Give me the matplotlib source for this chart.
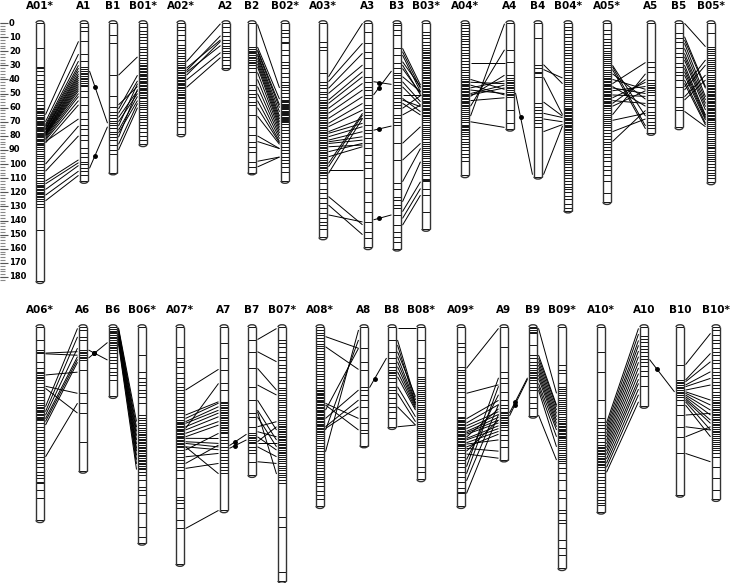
import matplotlib.pyplot as plt
from matplotlib.patches import Arc, Rectangle
from matplotlib.collections import LineCollection

# ---- marker positions (cM) per linkage group ----
A01s = [18, 31.2, 31.8, 34, 37, 40.5, 43, 45.5, 48, 50.5, 53, 55.5, 58, 60, 61, 62.2, 63, 64.1, 65, 66.3,
        67, 68, 69.2, 70, 71, 71.8, 72.6, 73.5, 74.3, 75.2, 76, 76.8, 77.7, 78.5, 79.4, 80.2, 81, 82, 83,
        83.8, 84.7, 85.5, 86.5, 88, 89.5, 91, 92.5, 94.5, 96, 98, 100, 102, 104.5, 106, 108, 110, 112,
        113.5, 114.5, 115.5, 116.5, 117.5, 118.5, 119.5, 120.5, 121.5, 122.5, 123.5, 124.5, 126, 128, 130.5, 147]
A1 = [3, 6, 13, 22, 27, 31, 32.5, 34, 35.2, 36.4, 37.6, 38.8, 40, 41.2, 42.4, 43.6, 45, 48.5, 52.5, 58, 63,
      68, 72, 75, 79.5, 83, 88.5, 92, 95, 98.5, 100, 103, 105, 107.5]
B1 = [8.5, 14.5, 37, 52, 59.3, 63, 65.2, 67.6, 69.5, 71, 72.3, 74.7, 77, 78.9, 80.6, 83, 86.5, 90, 92.5]
B01s = [3, 5.5, 8, 10, 12, 14, 16.8, 18.5, 20.5, 22.5, 24.5, 26.5, 28.5, 29.8, 30.8, 31.8, 32.8, 33.8, 34.8,
        35.8, 36.8, 37.8, 38.8, 39.8, 40.8, 41.8, 42.8, 43.8, 44.8, 45.8, 46.8, 47.8, 48.8, 49.8, 51, 52.5,
        53.5, 55, 56.5, 58, 59.5, 61, 63, 65, 66.5, 68, 70, 72, 74.5, 77, 80, 83]
A02s = [2.6, 5, 8.5, 12, 15.6, 17.5, 19.1, 21.5, 23.5, 25, 27, 28.5, 29.8, 31, 32.2, 33.4, 34.5, 35.7, 36.9,
        38, 39.2, 40.2, 41.2, 42.2, 43.2, 44.2, 45.2, 46.3, 47.3, 48.7, 50, 51, 52.5, 53.4, 55, 56.5, 58.2,
        60.5, 62.9, 65.2, 67.6, 70, 73.5]
A2 = [2.6, 6.1, 9, 12, 14.4, 16.1, 17.9, 19.9, 21.5, 23.9, 26.2, 29.8]
B2 = [17, 18.5, 19.5, 20.5, 21.5, 22.7, 23.9, 25, 26.2, 27.4, 28.6, 29.8, 32.2, 34.5, 44, 47.5, 50, 52.3,
      55.8, 58.2, 65.2, 74, 79.4, 84.2, 87.7, 91.2, 98.3, 102]
B02s = [5, 7.3, 9.7, 13.2, 14.4, 19.1, 22.7, 27.4, 29.8, 32.2, 35.7, 38.1, 41.6, 44, 45.2, 47.5, 49.9, 52.3,
        54.6, 55.5, 56.3, 57.2, 58, 58.8, 59.7, 60.5, 61.3, 62.2, 63, 63.8, 64.7, 65.5, 66.4, 67.2, 68,
        68.8, 69.7, 70.5, 71.3, 73.5, 75.9, 78.2, 80.6, 83, 85.3, 87.7, 90, 92.4, 94.8, 97.2, 99.5, 101.9, 105.4]
A03s = [13.2, 16.8, 19.1, 35.7, 41.6, 44, 46.3, 48.7, 50.5, 52.2, 54.6, 55.8, 57, 58.2, 59.3, 60.5, 61.7,
        62.9, 64, 65.2, 66.4, 67.6, 68.8, 70, 71.1, 72.3, 73.5, 74.7, 75.9, 77, 78.2, 79.4, 80.6, 81.8, 83,
        84.2, 85.3, 86.5, 87.7, 88.9, 90, 91.2, 92.4, 93.6, 94.8, 96, 97.2, 98.3, 99.5, 100.7, 102, 103,
        104.2, 105.4, 106.6, 107.8, 110.2, 113.7, 117.3, 120.8, 124.3, 127.8, 131.4, 135, 138.5, 141, 143.3, 146]
A3 = [6.1, 14.4, 20.3, 25, 32.2, 38, 41.6, 45.2, 47.5, 51, 53.4, 58.2, 60.5, 62.9, 65.2, 67.6, 72.3, 75.9,
      78.2, 81.8, 85.3, 88.9, 93.6, 98.3, 103, 110, 119.6, 126.7, 133.7, 140.8, 148, 152.7]
B3 = [1.4, 5, 8.5, 17.9, 22.7, 28.6, 32.2, 35.7, 36.9, 39.2, 41.6, 44, 46.3, 48.7, 51, 53.4, 55.8, 58.2,
      60.5, 65.2, 67.6, 70, 72.3, 85.3, 97.2, 113.7, 117.3, 123.2, 125.5, 129, 131.4, 136.1, 143.3, 148, 152, 155]
B03s = [6.1, 8.5, 10.9, 13.2, 15.6, 17.5, 19.1, 20.3, 21.5, 22.7, 23.9, 25, 26.2, 27.4, 28.6, 29.8, 31, 32.2,
        33.4, 34.5, 35.7, 36.9, 38.1, 39.2, 40.4, 41.6, 42.8, 44, 45, 46, 47, 48, 49, 50, 51, 52, 53, 54, 55,
        56, 57, 58, 59, 60, 61, 62, 63, 64, 65, 66, 67.5, 69, 70.5, 72, 73.5, 75, 76.5, 78, 79.5, 81, 82.5,
        84, 85.5, 87, 88.5, 90, 91.5, 93, 94.5, 96, 97.5, 99, 100.5, 102, 104, 106, 107.8, 110.5, 111.3,
        112, 117.3, 122, 133.7]
A04s = [1.5, 3.5, 5.5, 7.5, 9.5, 11, 13, 15, 17, 19, 21, 23, 25, 27, 29, 31, 33, 35, 37, 38.5, 40, 41, 42,
        43, 44, 45, 46, 47, 48, 49, 50, 51, 52, 53, 54, 55, 56, 57, 58, 59, 60, 61.5, 63, 64.5, 66, 67.5,
        69, 70.5, 72, 73, 74, 75, 76, 77, 78.5, 80, 82, 84, 86, 88, 90, 92.5, 95, 98]
A4 = [19.1, 27.4, 36.9, 39.2, 40.4, 41.6, 42.8, 44, 45.2, 46.3, 47.5, 48.7, 50, 51, 52.2, 61.7, 71.1]
B4 = [10.9, 29.5, 31.7, 34.5, 35.7, 38.5, 57, 59.3, 61.7, 64, 66.4, 68.8, 71.1, 73.5]
B04s = [3, 5, 7.5, 10, 12.5, 15, 17, 19, 21, 23, 25, 27, 29, 31, 33, 35, 37, 39, 40.5, 42, 43.5, 45, 46.5,
        48, 49.5, 51, 52.5, 54, 55.5, 57, 58.5, 60, 61, 62, 63, 64, 65, 66, 67, 68, 69, 70, 71, 72, 73, 74,
        75, 76, 77.5, 79, 80.5, 82, 83.5, 85, 86.5, 88, 89.5, 91, 92.5, 94, 95.5, 97, 98.5, 100, 102, 104,
        106, 108, 110, 112, 114, 116, 118, 120, 122.5, 125, 128, 131]
A05s = [5, 8, 11, 13.5, 15.5, 17.5, 19.5, 21, 22.5, 24, 25.5, 27, 28.5, 30, 31.5, 33, 34.5, 36, 37.5, 39, 40,
        41, 42, 43, 44, 45, 46, 47, 48, 49, 50, 51, 52, 53, 54, 55, 56, 57, 58, 59, 60.5, 62, 63.5, 65,
        66.5, 68, 69.5, 71, 72.5, 74, 76, 78, 80, 82, 84, 86, 88, 90, 92.5, 95, 98, 101, 104, 108, 112, 120.8]
A5 = [27.4, 31, 34.5, 40.4, 42.8, 44, 45.2, 46.3, 47.5, 48.7, 51.1, 54.6, 57, 59.3, 62.9, 65.3, 67.6, 70,
      72.3, 74.7]
B5 = [7.4, 10.9, 13.2, 18, 21.5, 23.9, 28.6, 31, 34.5, 36.9, 40.4, 45.2, 52.3, 59.3, 61.7]
B05s = [7.4, 16.8, 18.5, 20, 21.5, 23, 24.5, 26, 27.5, 29, 30.5, 32, 33.5, 35, 36.5, 38, 39.5, 41, 42.5, 44,
        45, 46, 47, 48, 49, 50, 51, 52, 53, 54, 55, 56, 57, 58, 59, 60, 61, 62, 63, 64, 65, 66, 67, 68, 69,
        70, 71.5, 73, 74.5, 76, 77.5, 79, 80.5, 82, 83.5, 85, 86.5, 88.2, 88.8, 90.5, 92, 93.5, 95, 96.5, 98,
        100, 102, 104, 106, 108, 110]

A06s = [9.2, 16.3, 17.5, 18.7, 24.6, 29.3, 31.7, 32.9, 34, 35.2, 36.4, 37.6, 40, 42.3, 44.7, 47, 49.4, 51.8,
        54.1, 55.3, 56.5, 57.5, 58.5, 59.5, 60.5, 61.5, 62.5, 63.5, 64.5, 65.5, 66, 68.3, 70.7, 73, 75.4,
        77.8, 80.1, 82.5, 84.9, 87.2, 89.6, 92, 94.3, 96.7, 99, 102.6, 105, 107.3, 109.7, 110.9, 115.6, 121.5]
A6 = [2.1, 6.8, 9.2, 16.3, 17.5, 18.7, 19.9, 21, 22.2, 23.4, 30.5, 47, 54.1, 61.2, 81.3]
B6 = [1.7, 2.6, 3.5, 4.5, 5.7, 6.8, 8, 9.2, 10.4, 11.6, 12.8, 14, 15.1, 16.3, 18.7, 21, 23.4, 25.8, 29.3,
      31.7, 34, 37.6]
B06s = [19.9, 31.7, 36.4, 38.8, 41.1, 44.7, 47, 49.4, 54.1, 62.4, 64.2, 66, 67.8, 69.5, 71.5, 73, 74.5, 75.6,
        76.8, 78, 79.1, 80.2, 81.4, 82.5, 83.6, 84.8, 86, 87.1, 88.2, 89.4, 90.5, 91.7, 92.8, 94, 95.1,
        96.3, 97.4, 98.6, 99.7, 100.9, 102.6, 105, 108.5, 113.2, 115.6, 119.1, 125, 132.1, 141.6, 148.7]
A07s = [14, 22.2, 24.6, 28.1, 32.9, 36.4, 40, 42.3, 44.7, 47, 49.4, 51.8, 54.1, 56.5, 58.9, 61.2, 63.6, 66,
        67, 68, 69, 70, 71, 72, 73, 74, 75, 76, 77, 78, 79, 80, 81, 82, 83, 84, 84.9, 87.2, 89.6, 92, 94.3,
        96.7, 99, 101.4, 107.3, 120.3, 122.7, 125, 128.6, 136.9, 142.8]
A7 = [11.6, 22.2, 30.5, 40, 44.7, 53, 54.1, 55.3, 56.5, 57.7, 58.9, 60, 61.2, 62.4, 63.6, 64.8, 66, 67.1,
      68.3, 69.5, 70.7, 71.9, 73, 74.2, 75.4, 77.8, 80.1, 82.5, 84.9, 87.2, 89.6, 92, 94.3, 96.7, 99,
      101.4, 103.8]
B7 = [9.2, 17.5, 29.3, 42.3, 51.8, 61.2, 63.6, 70.7, 75.4, 76.6, 77.8, 78.9, 80.1, 81.3, 82.5, 84.9, 87.2,
      89.6, 95.5]
B07s = [9.2, 11.6, 14, 17.5, 21, 23.4, 26.9, 29.3, 31.7, 35.2, 37.6, 40, 43.5, 44.7, 46.5, 48.2, 50, 51.8,
        53.5, 55.3, 57, 58.9, 60.5, 62.4, 64, 65.6, 67.1, 68.5, 70, 71.2, 72.4, 73.5, 74.6, 75.8, 77, 78.1,
        79.2, 80.4, 81.5, 82.6, 83.8, 85, 86.1, 87.2, 88.4, 89.6, 90.7, 91.9, 93.5, 95, 96.7, 98.3, 100,
        101.7, 103.4, 104.8, 106.2, 108.5, 110.9, 134.5, 141.6, 173.5]
A08s = [2, 4, 6, 8, 10, 12, 13.5, 15, 17, 19, 21, 23, 25, 27, 29, 31, 33, 35, 37, 39, 41, 43, 44.5, 45.5,
        46.5, 47.5, 48.5, 49.5, 50.5, 51.5, 52.5, 53.5, 54.5, 55.5, 56.5, 57.5, 58.5, 59.5, 60.5, 61.5,
        62.5, 63.5, 64.5, 65.5, 66.5, 67.5, 68.5, 69.5, 70.5, 71.5, 72.5, 73.5, 74.5, 75.5, 77, 78.5, 80,
        82, 84, 86, 88, 90, 92, 94, 96, 98, 100, 102, 104, 106, 108, 110, 113, 116, 119, 122]
A8 = [15.1, 24.6, 30.5, 42.3, 44.7, 48.2, 51.8, 56.5, 64.8, 68.3, 73, 75.4]
B8 = [9.2, 17.5, 22.2, 25.8, 28.1, 30.5, 31.7, 32.9, 34, 36.4, 38.8, 42.3, 44.7, 47, 50.6, 54.1, 56.5, 60, 64.8]
B08s = [9.2, 22.2, 24.6, 29.3, 35.2, 37, 38.5, 40, 41.5, 43, 44.5, 46, 47.5, 49, 50.5, 52, 53.5, 55, 56.5,
        58, 59.5, 61, 62.5, 64, 65.5, 67, 68.5, 70, 71.5, 73, 74.5, 76, 77.5, 79, 80.5, 82, 83.5, 84.9, 89.6,
        92, 99, 102.6]
A09s = [11.6, 14, 17.5, 28.1, 30.5, 31.7, 34, 36.4, 38.8, 41.1, 43.5, 45.9, 49.4, 53, 56.5, 60, 63.6, 64.6,
        65.6, 66.6, 67.6, 68.6, 69.6, 70.6, 71.6, 72.6, 73.6, 74.6, 75.6, 76.6, 77.6, 78.6, 79.6, 80.6, 81.6,
        82.6, 83.6, 84.6, 85.6, 87.2, 89.6, 92, 94.3, 96.7, 99, 102.6, 106.2, 109.7, 114.4, 116.8, 118]
A9 = [14, 31.7, 36.4, 40, 45.9, 51.8, 55.3, 57.7, 60, 61.2, 62.4, 63.6, 64.8, 66, 67.1, 68.3, 69.5, 70.7,
      73, 76.6, 80.1, 84.9]
B9 = [0.9, 2.1, 3.3, 4.5, 12.8, 19.9, 22.2, 24.6, 27, 29.3, 30.5, 31.7, 32.9, 34, 35.2, 36.4, 37.6, 40,
      42.3, 44.7, 49.4, 54.1, 57.7]
B09s = [26.9, 30.5, 32.9, 40, 42.3, 44, 45.5, 47, 48.5, 50, 51.5, 53, 54.5, 56, 57.5, 59, 60.5, 62, 63.5,
        65, 66.5, 68, 69, 70, 71, 72, 73, 74, 75, 76, 77, 78, 79, 80, 81.5, 83, 84.5, 86, 87.5, 89, 90.5, 92,
        93.5, 95, 96.7, 100.2, 103.8, 108.5, 115.6, 121.5, 129.8, 132.1, 136.9, 139.2, 151, 156.9, 161.7]
A10s = [17.5, 31.7, 51.8, 64.8, 67.1, 69.5, 71.9, 74.2, 76.6, 78.9, 81.3, 83.7, 84.8, 85.9, 87, 88.1, 89.2,
        90.3, 91.4, 92.5, 93.6, 94.7, 95.8, 96.9, 98, 99, 101.4, 103.8, 106.2, 108.5, 110.9, 113.2, 115.6,
        118, 120.3, 122.7, 125, 126.2]
A10 = [6.1, 8.5, 10.9, 13.2, 15.6, 18, 20.3, 22.7, 25, 27.4, 31, 34.5, 41.6]
B10 = [27.2, 37.6, 38.8, 40, 41.1, 42.3, 43.5, 44.7, 45.9, 47, 48.2, 49.4, 51.8, 55.3, 62.4, 70.7, 77.8, 89.6]
B10s = [2.1, 5.7, 9.2, 11.6, 15.1, 17.5, 19.9, 23.4, 25.8, 29.3, 31.7, 34, 36.4, 38.8, 41.1, 43.5, 45.9,
        48.2, 49.4, 51.8, 53, 54.2, 55.4, 56.6, 57.8, 59, 60.2, 61.4, 62.6, 63.8, 65, 66.2, 67.4, 68.6, 69.8,
        71, 72.2, 73.4, 74.6, 75.8, 77, 78.5, 80, 81.5, 83, 84.5, 86, 87.2, 89.6, 92, 99, 107.3, 115.6]

# ---- names and lengths (cM) ----
top_names = ["A01*", "A1", "B1", "B01*", "A02*", "A2", "B2", "B02*", "A03*", "A3", "B3", "B03*",
             "A04*", "A4", "B4", "B04*", "A05*", "A5", "B5", "B05*"]
top_lengths = [183, 112, 106, 86, 79, 32, 106, 112, 152, 159, 160, 146, 108, 75, 109, 133, 127, 78, 74, 113]
top_markers = [A01s, A1, B1, B01s, A02s, A2, B2, B02s, A03s, A3, B3, B03s,
               A04s, A4, B4, B04s, A05s, A5, B5, B05s]
bot_names = ["A06*", "A6", "B6", "B06*", "A07*", "A7", "B7", "B07*", "A08*", "A8", "B8", "B08*",
             "A09*", "A9", "B9", "B09*", "A10*", "A10", "B10", "B10*"]
bot_lengths = [137, 102, 49, 153, 168, 130, 105, 180, 127, 84, 71, 108, 127, 94, 63, 171, 131, 56, 119, 122]
bot_markers = [A06s, A6, B6, B06s, A07s, A7, B7, B07s, A08s, A8, B8, B08s,
               A09s, A9, B9, B09s, A10s, A10, B10, B10s]

# ---- links (left cM, right cM) ----
lk_A01 = [(65, 13), (70, 22), (72, 27), (73, 30), (74, 32), (75, 34), (75.5, 36), (76, 37.5), (77, 39),
          (77.5, 40.5), (78, 42), (78.5, 43.5), (79, 45), (79.5, 46.5), (80, 48), (81, 50), (82, 52),
          (83, 55), (85, 58), (84, 68), (100, 73), (105, 80), (112, 97), (114, 99), (118, 101),
          (122, 105), (126, 108)]
dl_1 = [(34, 71), (103, 73.5)]
lk_B1 = [(37, 24), (58, 45), (61, 37), (64, 41), (67, 48), (70, 50), (73, 43), (76, 52), (78, 55),
         (81, 47), (86, 57), (90, 60)]
lk_A02 = [(27.4, 0.5), (32, 12), (33.8, 9), (35, 16), (37, 13), (40.4, 21), (45.6, 24.5)]
lk_B2 = [(1, 46), (17, 54), (19, 58), (20, 60), (22, 63), (23, 66), (25, 68), (27, 70), (29, 72), (31, 74),
         (35, 76), (40, 78), (45, 80), (50, 82), (55, 84), (60, 85), (66, 86), (80, 89), (84, 89),
         (98, 95), (102, 95)]
lk_A03 = [(38.1, 0.2), (41.6, 14.4), (46.3, 21.5), (49.9, 29.8), (54.6, 34.5), (57, 38.1), (60.5, 42.8),
          (64, 47.5), (67.6, 52.2), (71.1, 57), (73.5, 61.7), (77, 67.6), (78.2, 71.1), (80.6, 73.5),
          (83, 77), (84.2, 80.6), (85.4, 83), (87.7, 86.5), (91.2, 85.3), (94.8, 87.7), (99.5, 64),
          (101.9, 65.2), (106.6, 67.6), (104.2, 104.2), (123, 143), (129, 150), (136, 141)]
dl_3 = [(41.6, 43.5), (51, 34), (76, 73), (139.5, 136)]
lk_B3 = [(17.9, 44), (20.3, 46.3), (22.7, 48.7), (27.4, 45.2), (29.8, 51), (32.2, 49.9), (38, 48.7),
         (41.6, 55.8), (45.2, 58.2), (51, 51), (53.4, 62.9), (54.6, 59.3), (56.9, 65.2), (60.5, 51.5),
         (65.2, 58.2), (85.3, 73.5), (97.2, 85.3), (112.5, 88.9), (126.7, 98.3), (133.7, 112.5),
         (138.5, 117.3), (143.3, 122)]
lk_A04 = [(28, 28), (40, 47), (42, 43), (44, 51), (46, 41), (47.5, 50), (50, 44), (51, 46), (52, 37),
          (55, 53), (59, 19), (66, 0.5), (70, 74)]
dl_4 = [(49.5, 107.5)]
lk_B4 = [(29.5, 43), (33, 39), (38.5, 65), (56, 66), (64, 67), (68, 70), (77, 72), (107.5, 73)]
lk_A05 = [(30, 66), (31, 73), (33, 75), (36, 54), (40, 47), (43, 28), (45, 59), (46, 50), (48, 45),
          (51, 52), (53, 42), (55, 57), (57, 40), (59, 48), (65, 36), (69, 64), (77, 68), (84, 62)]
lk_B5 = [(0.2, 16.8), (9.7, 45.2), (12, 46.3), (14.4, 52.3), (18, 54.6), (21.5, 57), (23.9, 59.3),
         (26.2, 61.7), (29.8, 65.3), (32.2, 66.4), (34.5, 67.6), (36.9, 68.8), (40.4, 71.1), (42.8, 72.3),
         (45.2, 26.2), (47.5, 29.8), (52.3, 36.9), (54.6, 40.4), (62.6, 73.5)]

lk_A06 = [(18.5, 17.5), (19, 20), (34, 32), (42, 47), (43.5, 61), (56.5, 1), (60, 7), (62.5, 15), (65, 21),
          (67, 23), (69.5, 25), (92, 54)]
dl_6 = [(16.3, 23.4), (22, 11)]
lk_B6 = [(0.5, 67), (1.5, 71), (2.5, 74), (3, 77), (4.5, 80), (5, 83), (6.5, 86), (7, 88), (8.5, 91),
         (9, 94), (10.5, 97), (12, 101)]
lk_A07 = [(44.7, 30), (71.9, 40), (62.4, 53), (64.8, 54), (67.1, 56.5), (68.3, 59), (70.7, 61), (73, 63.6),
          (75.4, 67), (77.8, 69.5), (78.9, 79), (81.3, 82.5), (82.5, 85), (84.9, 87), (84.9, 104),
          (87.2, 75.4), (92, 89.6), (96.7, 83.7), (100.2, 96.7), (142.8, 130)]
dl_7 = [(84, 76), (86, 80)]
lk_B7 = [(8.9, 1.1), (17.5, 24.6), (29.3, 44.7), (41.1, 48.2), (51.8, 73), (58.9, 80.1), (60, 104.2),
         (63.6, 84.9), (70.7, 67.1), (74.2, 77.8), (77.8, 87.2), (81.3, 70.7), (82.5, 82.5), (84.9, 91.9),
         (95.5, 96.7)]
lk_A08 = [(6.8, 15.1), (14, 30.1), (54.1, 64.8), (55.3, 73), (58.9, 15.1), (64.8, 44.7), (70.7, 51.8),
          (71.9, 56.5), (88.4, 2.1), (73, 9.2)]
dl_8 = [(43, 22)]
lk_B8 = [(0.9, 0.9), (9.2, 51.8), (12.8, 54.1), (17.5, 49.4), (21, 54.1), (24.6, 55.3), (28.1, 56.5),
         (31.7, 57.7), (35.2, 58.9), (42.3, 63.6), (47, 67.1), (56.5, 69.5), (70.7, 69.5)]
lk_A09 = [(29.3, 1), (47, 41), (65, 52), (68, 55), (70, 60), (72, 62), (74, 64), (75, 66), (76, 68),
          (78, 58), (79, 70), (80, 72), (82, 74), (83, 80), (85, 76), (86, 88), (88, 66), (90, 93),
          (94, 48), (99, 36), (104, 42), (109, 55), (118, 62)]
dl_9 = [(61, 36), (63, 37)]
lk_B9 = [(0.9, 47), (19.9, 55.3), (22.2, 56.5), (24.6, 58.9), (27, 61.2), (29.3, 63.6), (31.7, 66),
         (34, 68.3), (36.4, 70.7), (40, 73), (42.3, 77.8), (44.7, 84.9), (62.4, 94.3)]
lk_A10 = [(68, 1), (70.5, 5), (73, 9.5), (75.5, 13), (78, 17), (80.5, 21), (83, 25), (85.5, 29), (88, 33),
          (90.5, 37), (93.5, 40), (96.5, 44), (99.5, 48), (103, 53)]
dl_10 = [(23, 46)]
lk_B10 = [(26.7, 4.5), (37.6, 18.7), (38.8, 24.6), (41.1, 31.7), (42.3, 36.4), (44.7, 41.1), (45.9, 51.8),
          (47, 55.3), (48.2, 58.9), (49.4, 62.4), (50.6, 66), (51.8, 68.3), (53, 73), (55.3, 77.8),
          (62.4, 61.2), (70.7, 73), (77.8, 70.7), (89.6, 95.5)]

# ---- layout (pixel x of each bar) ----
top_x = [40, 84, 113, 143, 181, 226, 252, 285, 323, 368, 397, 426, 465, 510, 538, 568, 607, 651, 679, 711]
bot_x = [40, 83, 113, 142, 180, 224, 252, 282, 320, 364, 392, 421, 461, 504, 533, 562, 601, 644, 680, 716]
top_links = [(0, 1, lk_A01, False), (1, 2, dl_1, True), (2, 3, lk_B1, False),
             (4, 5, lk_A02, False), (6, 7, lk_B2, False),
             (8, 9, lk_A03, False), (9, 10, dl_3, True), (10, 11, lk_B3, False),
             (12, 13, lk_A04, False), (13, 14, dl_4, True), (14, 15, lk_B4, False),
             (16, 17, lk_A05, False), (18, 19, lk_B5, False)]
bot_links = [(0, 1, lk_A06, False), (1, 2, dl_6, True), (2, 3, lk_B6, False),
             (4, 5, lk_A07, False), (5, 6, dl_7, True), (6, 7, lk_B7, False),
             (8, 9, lk_A08, False), (9, 10, dl_8, True), (10, 11, lk_B8, False),
             (12, 13, lk_A09, False), (13, 14, dl_9, True), (14, 15, lk_B9, False),
             (16, 17, lk_A10, False), (17, 18, dl_10, True), (18, 19, lk_B10, False)]

W = 4.0      # half width of a bar in px
SCALE = 1.411  # px per cM

fig = plt.figure(figsize=(7.38, 5.83), dpi=100)
ax_top = fig.add_axes([0, 1 - 290 / 583, 1, 290 / 583])
ax_bot = fig.add_axes([0, 0, 1, 293 / 583])
ax_top.set_ylim(267 / SCALE, -23 / SCALE)
ax_bot.set_ylim(256 / SCALE, -37 / SCALE)
cap_h = 4.5 / SCALE


def draw_row(ax, xs, names, lengths, markers, links):
    ax.set_xlim(0, 738)
    ax.axis("off")
    for x, name, L, m in zip(xs, names, lengths, markers):
        ax.add_patch(Rectangle((x - W, 0), 2 * W, L, fc="white", ec="none", zorder=2))
        ax.vlines([x - W, x + W], 0, L, color="#333333", lw=1.0, zorder=4)
        ax.hlines(list(m) + [0, L], x - W, x + W, color="#111111", lw=0.7, zorder=3)
        ax.add_patch(Arc((x, 0), 2 * W, cap_h, theta1=180, theta2=360, color="#333333", lw=1.0, zorder=4))
        ax.add_patch(Arc((x, L), 2 * W, cap_h, theta1=0, theta2=180, color="#333333", lw=1.0, zorder=4))
        ax.text(x, -12, name, ha="center", va="center", fontsize=7.5, fontweight="bold")
    for i, j, pairs, dotted in links:
        x0 = xs[i] + W + 1.5
        x1 = xs[j] - W - 1.5
        segs = [[(x0, a), (x1, b)] for a, b in pairs]
        ax.add_collection(LineCollection(segs, colors="black", lw=0.7, zorder=1))
        if dotted:
            for a, b in pairs:
                t = 0.3
                ax.plot(x0 + t * (x1 - x0), a + t * (b - a), "o", color="black", ms=2.5, zorder=1)


draw_row(ax_top, top_x, top_names, top_lengths, top_markers, top_links)
draw_row(ax_bot, bot_x, bot_names, bot_lengths, bot_markers, bot_links)

# ruler on the left
ruler_minor = list(range(0, 184, 2))
ruler_major = list(range(0, 181, 10))
ax_top.hlines(ruler_minor, 0, 5, color="#888888", lw=0.8)
ax_top.hlines(ruler_major, 0, 8, color="#555555", lw=0.8)
for v in ruler_major:
    ax_top.text(9, v, str(v), ha="left", va="center", fontsize=6, fontweight="bold")

fig.savefig("out.png", dpi=100)
